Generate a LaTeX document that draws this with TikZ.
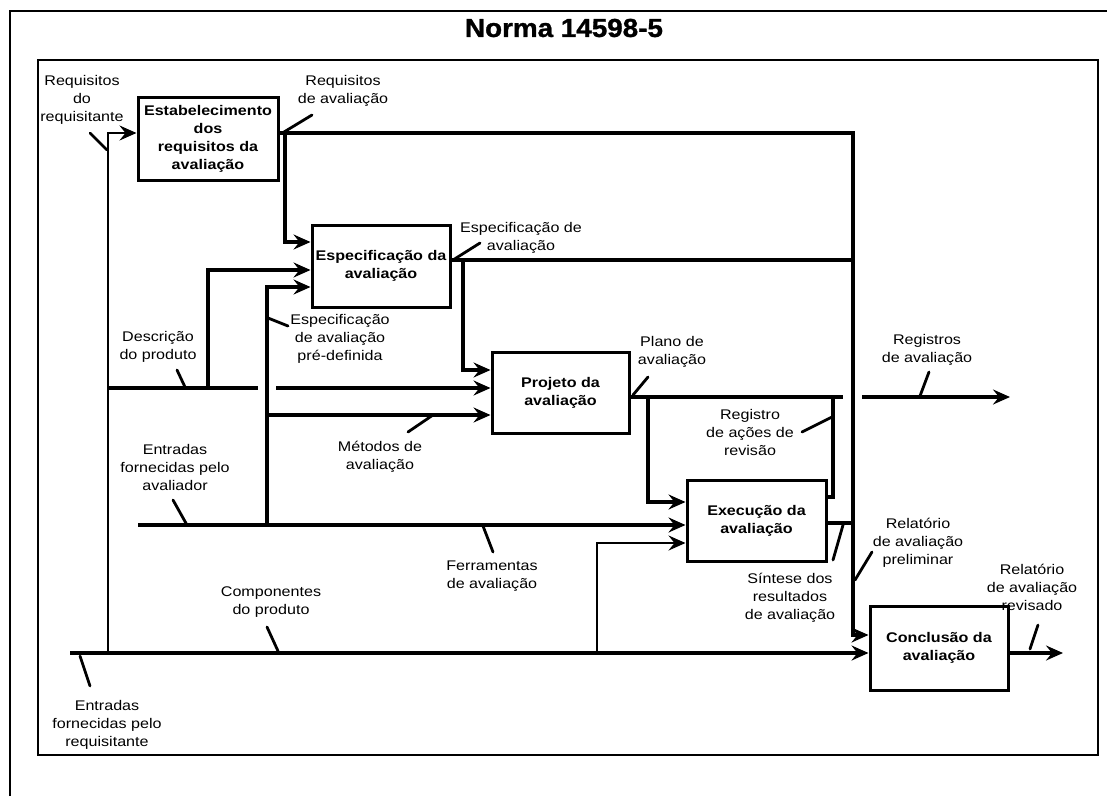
\documentclass[tikz,border=0pt]{standalone}
\usepackage{fontspec}
\setmainfont{Liberation Sans}
\newfontfamily\labfont[FakeStretch=1.15]{Liberation Sans}
\newfontfamily\ttlfont[FakeStretch=1.07,FakeBold=1.2]{Liberation Sans Bold}
\usetikzlibrary{arrows.meta}

\begin{document}
\begin{tikzpicture}[x=1pt,y=-1pt,
  proc/.style={draw,line width=3pt,align=center,inner sep=1pt,
    font=\labfont\bfseries\fontsize{14}{18}\selectfont},
  lbl/.style={align=center,inner sep=0pt,
    font=\labfont\fontsize{14}{18}\selectfont},
  flow/.style={line width=4pt},
  midflow/.style={line width=3.2pt},
  thinflow/.style={line width=2.2pt},
  arr/.style={-{Stealth[length=17pt,width=15pt,inset=6pt]}},
  lead/.style={line width=2.8pt,line cap=round},
  frame/.style={line width=2.6pt}]

\useasboundingbox (0,0) rectangle (1107,796);

% frames and title
\draw[frame] (10,796) -- (10,11) -- (1107,11);
\draw[frame] (38,60) rectangle (1098,755);
\node[font=\ttlfont\fontsize{26}{30}\selectfont] (title) at (564,28) {Norma 14598-5};

% process boxes
\node[proc,minimum width=140pt,minimum height=83pt] (b1) at (208,138.5)
  {Estabelecimento\\dos\\requisitos da\\avaliação};
\node[proc,minimum width=138pt,minimum height=82pt] (b2) at (381,266)
  {Especificação da\\avaliação};
\node[proc,minimum width=137pt,minimum height=81pt] (b3) at (560.5,392.5)
  {Projeto da\\avaliação};
\node[proc,minimum width=139pt,minimum height=81pt] (b4) at (756.5,520.5)
  {Execução da\\avaliação};
\node[proc,minimum width=138pt,minimum height=84pt] (b5) at (939,648)
  {Conclusão da\\avaliação};

% junctions and free ends
\coordinate (rq)   at (70,653);
\coordinate (jq)   at (108,653);
\coordinate (jd)   at (108,388);
\coordinate (jdp)  at (208,388);
\coordinate (gapL) at (258,388);
\coordinate (gapR) at (276,388);
\coordinate (ja)   at (138,525);
\coordinate (jav)  at (267,525);
\coordinate (jm)   at (267,415);
\coordinate (jr)   at (285,133);
\coordinate (cr)   at (853,133);
\coordinate (cs)   at (463,260);
\coordinate (es)   at (853,260);
\coordinate (pp)   at (648,397);
\coordinate (pe)   at (843,397);
\coordinate (rgS)  at (862,397);
\coordinate (rgE)  at (1010,397);
\coordinate (fb)   at (833,397);
\coordinate (ee)   at (853,523);
\coordinate (jc)   at (597,653);
\coordinate (out)  at (1063,653);

% flows
\draw[flow,arr] (rq) -- (b5.west |- rq);
\draw[thinflow,arr] (jq) |- (b1.west |- jr);
\draw[flow] (jd) -- (gapL);
\draw[flow,arr] (gapR) -- (b3.west |- gapR);
\draw[flow,arr] (jdp) |- (b2.west |- 0,270);
\draw[midflow,arr] (b1.east |- jr) -- (cr) |- (b5.west |- 0,635);
\draw[flow,arr] (jr) |- (b2.west |- 0,242);
\draw[flow,arr] (ja) -- (b4.west |- ja);
\draw[flow,arr] (jav) |- (b2.west |- 0,287);
\draw[midflow,arr] (jm) -- (b3.west |- jm);
\draw[midflow] (b2.east |- cs) -- (es);
\draw[flow,arr] (cs) |- (b3.west |- 0,370);
\draw[flow] (b3.east |- pp) -- (pe);
\draw[flow,arr] (rgS) -- (rgE);
\draw[flow,arr] (pp) |- (b4.west |- 0,502);
\draw[midflow] (b4.east |- 0,497) -| (fb);
\draw[midflow] (b4.east |- ee) -- (ee);
\draw[thinflow,arr] (jc) |- (b4.west |- 0,543);
\draw[flow,arr] (b5.east |- out) -- (out);

% labels
\node[lbl] (t1)  at (82,100)   {Requisitos\\do\\requisitante};
\node[lbl] (t2)  at (343,91)   {Requisitos\\de avaliação};
\node[lbl] (t3)  at (521,237.5) {Especificação de\\avaliação};
\node[lbl] (t4)  at (158,346.5) {Descrição\\do produto};
\node[lbl] (t5)  at (340,339)  {Especificação\\de avaliação\\pré-definida};
\node[lbl] (t6)  at (672,352)  {Plano de\\avaliação};
\node[lbl] (t7)  at (380,456.5) {Métodos de\\avaliação};
\node[lbl] (t8)  at (750,432)  {Registro\\de ações de\\revisão};
\node[lbl] (t9)  at (927,350)  {Registros\\de avaliação};
\node[lbl] (t10) at (175,467)  {Entradas\\fornecidas pelo\\avaliador};
\node[lbl] (t11) at (492,576)  {Ferramentas\\de avaliação};
\node[lbl] (t12) at (271,602.5) {Componentes\\do produto};
\node[lbl] (t13) at (107,725)  {Entradas\\fornecidas pelo\\requisitante};
\node[lbl] (t14) at (790,598)  {Síntese dos\\resultados\\de avaliação};
\node[lbl] (t15) at (918,543)  {Relatório\\de avaliação\\preliminar};
\node[lbl] (t16) at (1032,587) {Relatório\\de avaliação\\revisado};

% leader ticks
\coordinate (l1a) at (90,133);   \coordinate (l1b) at (107,150);
\coordinate (l2a) at (312,115);  \coordinate (l2b) at (284,132);
\coordinate (l3a) at (480,243);  \coordinate (l3b) at (453,260);
\coordinate (l4a) at (177,370);  \coordinate (l4b) at (185,387);
\coordinate (l5a) at (268,318);  \coordinate (l5b) at (288,326);
\coordinate (l6a) at (648,377);  \coordinate (l6b) at (633,395);
\coordinate (l7a) at (408,432);  \coordinate (l7b) at (433,415);
\coordinate (l8a) at (802,432);  \coordinate (l8b) at (832,417);
\coordinate (l9a) at (929,372);  \coordinate (l9b) at (920,396);
\coordinate (l10a) at (173,500); \coordinate (l10b) at (187,525);
\coordinate (l11a) at (493,552); \coordinate (l11b) at (483,526);
\coordinate (l12a) at (267,627); \coordinate (l12b) at (278,651);
\coordinate (l13a) at (80,656);  \coordinate (l13b) at (90,686);
\coordinate (l14a) at (833,560); \coordinate (l14b) at (843,525);
\coordinate (l15a) at (855,580); \coordinate (l15b) at (872,552);
\coordinate (l16a) at (1038,625); \coordinate (l16b) at (1030,649);
\foreach \i in {1,...,16} { \draw[lead] (l\i a) -- (l\i b); }

\end{tikzpicture}
\end{document}
